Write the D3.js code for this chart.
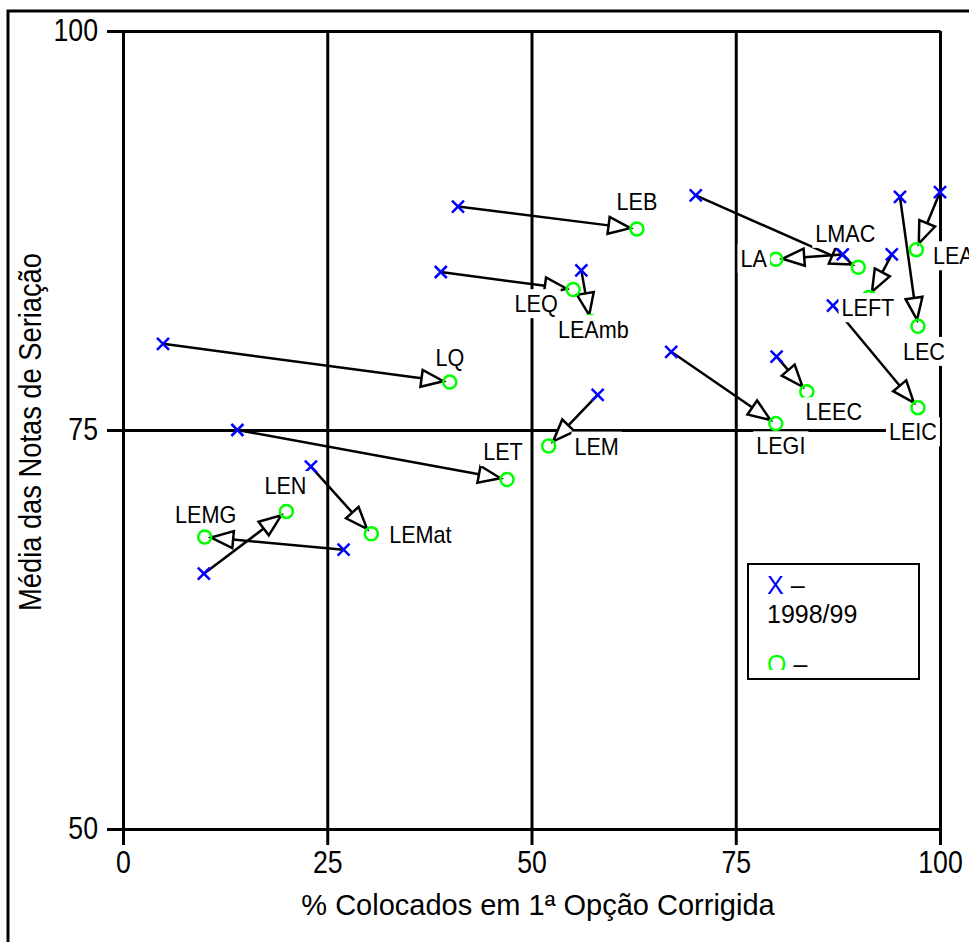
<!DOCTYPE html>
<html>
<head>
<meta charset="utf-8">
<script src="https://cdn.jsdelivr.net/npm/d3@7"></script>
<style>
body { margin: 0; background: #fff; }
svg { display: block; }
text { font-family: "Liberation Sans", Arial, sans-serif; }
</style>
</head>
<body>
<div id="chart"></div>
<script>
// courses, 1998/99 position (x) and the following year (o)
var courses = ["LEB", "LEQ", "LEAmb", "LQ", "LET", "LEN", "LEMG", "LEMat", "LEM",
    "LEGI", "LEEC", "LMAC", "LA", "LEFT", "LEIC", "LEC", "LEA"];
var colocados9899 = [41.0, 38.9, 56.1, 4.9, 14.0, 9.9, 27.0, 23.0, 58.1,
    67.1, 80.0, 70.1, 88.1, 94.1, 86.9, 95.1, 100.0];
var notas9899 = [89.0, 84.9, 85.0, 80.4, 75.0, 66.0, 67.5, 72.7, 77.2,
    79.9, 79.6, 89.7, 86.0, 86.0, 82.8, 89.6, 89.9];
var colocadosNext = [62.9, 55.1, 57.2, 40.0, 47.0, 20.0, 10.0, 30.4, 52.1,
    79.9, 83.7, 90.0, 79.9, 91.3, 97.3, 97.3, 97.1];
var notasNext = [87.6, 83.8, 81.8, 78.0, 71.9, 69.9, 68.3, 68.5, 74.0,
    75.4, 77.4, 85.2, 85.7, 83.3, 76.4, 81.5, 86.3];
var xTicks = [0, 25, 50, 75, 100];
var yTicks = [50, 75, 100];
var legendSymbols = ["X", "O"];
var legendLabels = ["1998/99", ""];

// label placement (pixels, relative to the circle)
var labelOffsets = [[0, -28], [-37, 14], [3, 8], [0, -25], [-4, -28], [-1, -26], [1, -23],
    [49, 1], [48, 0], [5, 22], [27, 20], [-13, -34], [-22, -1], [-1, 10], [-5, 24], [6, 25], [37, 6]];

// squeeze text horizontally a bit, the original font is narrower
function condense(sel, f) {
    sel.each(function () {
        var len = this.getComputedTextLength();
        d3.select(this).attr("textLength", len * f).attr("lengthAdjust", "spacingAndGlyphs");
    });
}

var svg = d3.select("#chart").append("svg")
    .attr("width", 969)
    .attr("height", 942);

svg.append("rect")
    .attr("x", 8).attr("y", 11)
    .attr("width", 1000).attr("height", 1000)
    .attr("fill", "none").attr("stroke", "#000").attr("stroke-width", 3);

var xScale = d3.scaleLinear().domain([0, 100]).range([123, 940]);
var yScale = d3.scaleLinear().domain([50, 100]).range([829, 31]);

// x axis drawn from the top so the ticks become the grid lines
var xAxis = d3.axisBottom(xScale).tickValues(xTicks).tickSize(814).tickSizeOuter(0).tickPadding(6);
var gx = svg.append("g").attr("transform", "translate(0,31)").call(xAxis);
var yAxis = d3.axisLeft(yScale).tickValues(yTicks).tickSize(833).tickSizeOuter(0).tickPadding(9);
var gy = svg.append("g").attr("transform", "translate(940,0)").call(yAxis);

[gx, gy].forEach(function (g) {
    g.selectAll("line").attr("stroke", "#000").attr("stroke-width", 3);
    g.select(".domain").attr("stroke", "#000").attr("stroke-width", 3);
    g.selectAll("text").attr("fill", "#000").style("font-size", "31px")
        .style("font-family", "'Liberation Sans', Arial, sans-serif");
    condense(g.selectAll("text"), 0.86);
});

svg.append("text")
    .attr("x", 538).attr("y", 915)
    .attr("text-anchor", "middle")
    .style("font-size", "29px")
    .text("% Colocados em 1ª Opção Corrigida");

svg.append("text")
    .attr("transform", "translate(41,432) rotate(-90)")
    .attr("text-anchor", "middle")
    .style("font-size", "31px")
    .text("Média das Notas de Seriação")
    .call(condense, 0.88);

// arrows
var r = 6.5, headLen = 22, headHalf = 8.5;
var pairs = courses.map(function (c, i) {
    var x0 = xScale(colocados9899[i]), y0 = yScale(notas9899[i]);
    var x1 = xScale(colocadosNext[i]), y1 = yScale(notasNext[i]);
    var len = Math.sqrt((x1 - x0) * (x1 - x0) + (y1 - y0) * (y1 - y0));
    var ux = (x1 - x0) / len, uy = (y1 - y0) / len;
    var tx = x1 - ux * r, ty = y1 - uy * r;
    var bx = tx - ux * headLen, by = ty - uy * headLen;
    return {name: c, x0: x0, y0: y0, x1: x1, y1: y1, tx: tx, ty: ty, bx: bx, by: by,
        nx: -uy, ny: ux, dx: labelOffsets[i][0], dy: labelOffsets[i][1]};
});

var arrows = svg.append("g").selectAll("g").data(pairs).enter().append("g");
arrows.append("line")
    .attr("x1", function (d) { return d.x0; })
    .attr("y1", function (d) { return d.y0; })
    .attr("x2", function (d) { return d.bx; })
    .attr("y2", function (d) { return d.by; })
    .attr("stroke", "#000").attr("stroke-width", 2.5);
arrows.append("polygon")
    .attr("points", function (d) {
        return [[d.tx, d.ty], [d.bx + d.nx * headHalf, d.by + d.ny * headHalf],
            [d.bx - d.nx * headHalf, d.by - d.ny * headHalf]].join(" ");
    })
    .attr("fill", "#fff").attr("stroke", "#000").attr("stroke-width", 2.5)
    .attr("stroke-linejoin", "miter");

// 1998/99 crosses
var s = 6;
svg.append("g").selectAll("path").data(pairs).enter().append("path")
    .attr("d", function (d) {
        return "M" + (d.x0 - s) + "," + (d.y0 - s) + "L" + (d.x0 + s) + "," + (d.y0 + s) +
            "M" + (d.x0 - s) + "," + (d.y0 + s) + "L" + (d.x0 + s) + "," + (d.y0 - s);
    })
    .attr("stroke", "#0000ff").attr("stroke-width", 2.5).attr("fill", "none");

// next year circles
svg.append("g").selectAll("circle").data(pairs).enter().append("circle")
    .attr("cx", function (d) { return d.x1; })
    .attr("cy", function (d) { return d.y1; })
    .attr("r", r)
    .attr("fill", "none").attr("stroke", "#00ff00").attr("stroke-width", 2.5);

// labels on white boxes
var labels = svg.append("g").selectAll("g").data(pairs).enter().append("g");
labels.append("rect");
labels.append("text")
    .attr("x", function (d) { return d.x1 + d.dx; })
    .attr("y", function (d) { return d.y1 + d.dy; })
    .attr("dy", "0.36em")
    .attr("text-anchor", "middle")
    .style("font-size", "24px")
    .text(function (d) { return d.name; })
    .call(condense, 0.9);
labels.each(function () {
    var g = d3.select(this);
    var b = g.select("text").node().getBBox();
    g.select("rect")
        .attr("x", b.x - 3).attr("y", b.y - 1)
        .attr("width", b.width + 6).attr("height", b.height + 2)
        .attr("fill", "#fff");
});

// legend
var legend = svg.append("g");
legend.append("clipPath").attr("id", "legclip")
    .append("rect").attr("x", 748).attr("y", 564).attr("width", 171).attr("height", 106);
legend.append("rect")
    .attr("x", 748).attr("y", 564).attr("width", 171).attr("height", 115)
    .attr("fill", "#fff").attr("stroke", "#000").attr("stroke-width", 2);
var legItems = legend.append("g").attr("clip-path", "url(#legclip)")
    .selectAll("g").data(legendSymbols).enter().append("g")
    .attr("transform", function (d, i) { return "translate(767," + (594 + i * 79) + ")"; });
var legText = legItems.append("text").style("font-size", "25px");
legText.append("tspan")
    .attr("fill", function (d, i) { return i === 0 ? "#0000ff" : "#00ff00"; })
    .text(function (d) { return d; });
legText.append("tspan").attr("fill", "#000").text(" –");
legItems.append("text")
    .attr("y", 29)
    .style("font-size", "25px")
    .text(function (d, i) { return legendLabels[i]; });
</script>
</body>
</html>
